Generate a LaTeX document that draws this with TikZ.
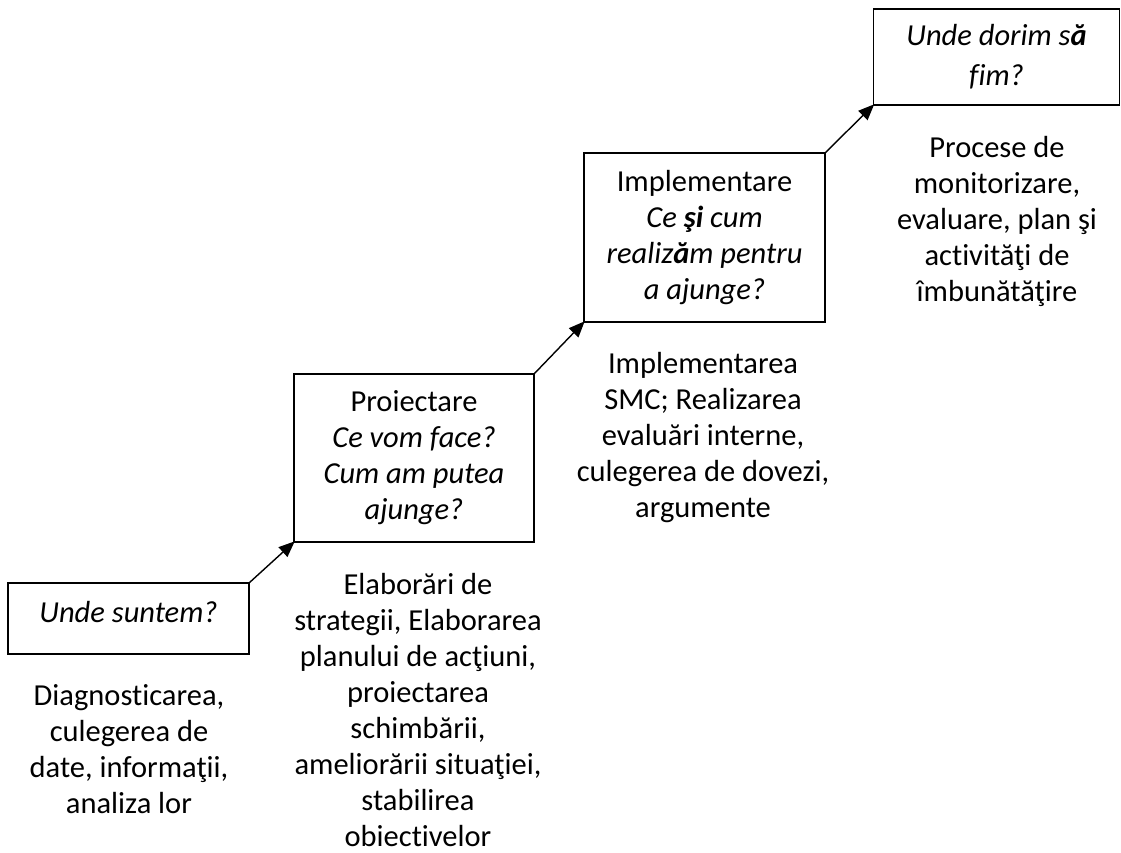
\documentclass[tikz,border=0pt]{standalone}
\usepackage{fontspec}
\setmainfont[Ligatures=NoCommon]{Carlito}
\usetikzlibrary{arrows.meta}
\tikzset{
  stage/.style={draw=black, line width=1.6pt, inner sep=0pt, outer sep=0pt, align=center,
    font=\fontsize{30.5}{36}\selectfont},
  desc/.style={inner sep=0pt, align=center, font=\fontsize{30.5}{36}\selectfont},
  link/.style={line width=1.4pt, -{Triangle[length=16pt,width=13pt]}, shorten >=-1pt}
}
\begin{document}
\begin{tikzpicture}[x=1pt,y=-1pt]
\useasboundingbox (0,0) rectangle (1121,852);
\node[stage, minimum width=241pt, minimum height=71pt] (b1) at (128.5,618.5) {};
\node[inner sep=0pt, font=\fontsize{30.5}{36}\selectfont] (t1) at (b1.center) [yshift=6pt] {\itshape Unde suntem?};
\node[stage, minimum width=240pt, minimum height=168pt] (b2) at (414,458) {Proiectare\\ \itshape Ce vom face?\\ \itshape Cum am putea\\ \itshape ajunge?};
\node[stage, minimum width=241pt, minimum height=169pt] (b3) at (704.5,237.5) {Implementare\\ \itshape Ce \textbf{şi} cum\\ \itshape realiz\textbf{ă}m pentru\\ \itshape a ajunge?};
\node[stage, minimum width=246pt, minimum height=96pt] (b4) at (996.5,57) {\itshape Unde dorim s\textbf{ă}\\[4pt] \itshape fim?};
\node[desc] (d1) at (129,749.5) {Diagnosticarea,\\ culegerea de\\ date, informaţii,\\ analiza lor};
\node[desc] (d2) at (418,710) {Elaborări de\\ strategii, Elaborarea\\ planului de acţiuni,\\ proiectarea\\ schimbării,\\ ameliorării situaţiei,\\ stabilirea\\ obiectivelor};
\node[desc] (d3) at (703,437.5) {Implementarea\\ SMC; Realizarea\\ evaluări interne,\\ culegerea de dovezi,\\ argumente};
\node[desc] (d4) at (997,221.5) {Procese de\\ monitorizare,\\ evaluare, plan şi\\ activităţi de\\ îmbunătăţire};
\draw[link] (b1.north east) -- (b2.south west);
\draw[link] (b2.north east) -- (b3.south west);
\draw[link] (b3.north east) -- (b4.south west);
\end{tikzpicture}
\end{document}
